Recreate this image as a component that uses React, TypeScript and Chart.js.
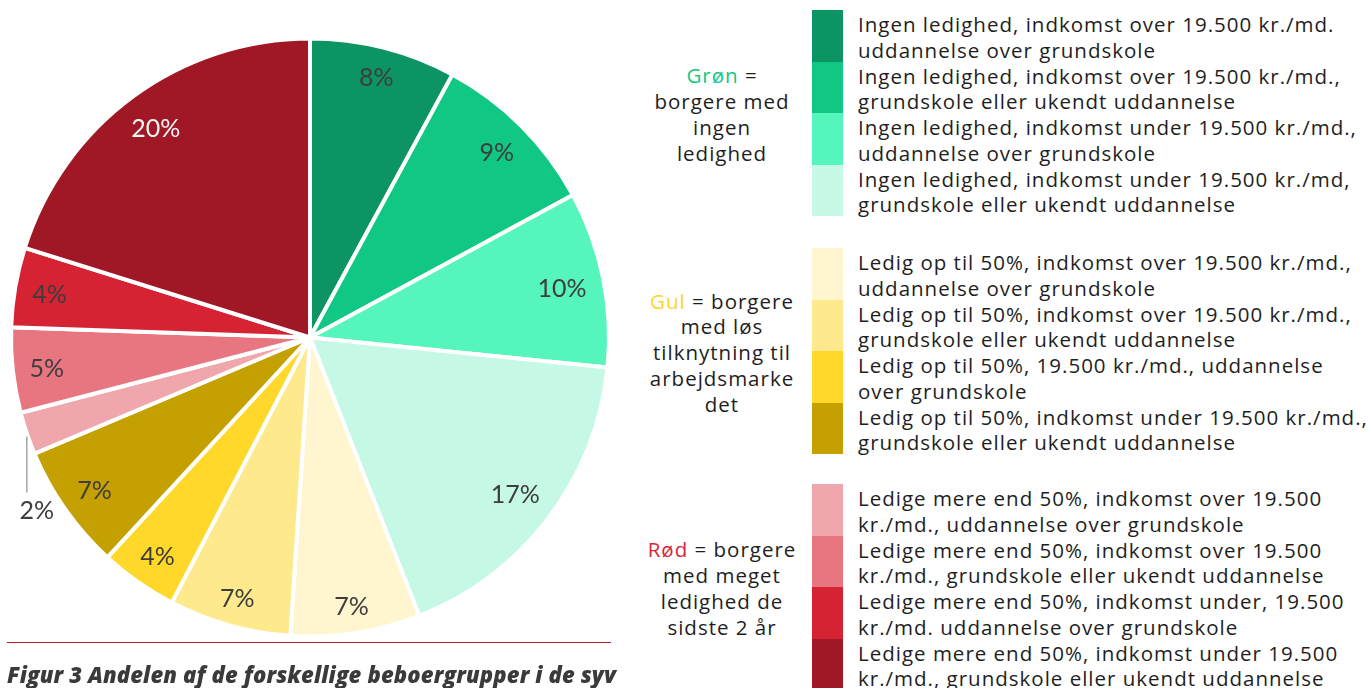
import React, { useEffect, useRef } from "react";
import { Chart, registerables } from "chart.js";

Chart.register(...registerables);

const categories: string[] = [
  "Ingen ledighed, indkomst over 19.500 kr./md. uddannelse over grundskole",
  "Ingen ledighed, indkomst over 19.500 kr./md., grundskole eller ukendt uddannelse",
  "Ingen ledighed, indkomst under 19.500 kr./md., uddannelse over grundskole",
  "Ingen ledighed, indkomst under 19.500 kr./md, grundskole eller ukendt uddannelse",
  "Ledig op til 50%, indkomst over 19.500 kr./md., uddannelse over grundskole",
  "Ledig op til 50%, indkomst over 19.500 kr./md., grundskole eller ukendt uddannelse",
  "Ledig op til 50%, 19.500 kr./md., uddannelse over grundskole",
  "Ledig op til 50%, indkomst under 19.500 kr./md., grundskole eller ukendt uddannelse",
  "Ledige mere end 50%, indkomst over 19.500 kr./md., uddannelse over grundskole",
  "Ledige mere end 50%, indkomst over 19.500 kr./md., grundskole eller ukendt uddannelse",
  "Ledige mere end 50%, indkomst under, 19.500 kr./md. uddannelse over grundskole",
  "Ledige mere end 50%, indkomst under 19.500 kr./md., grundskole eller ukendt uddannelse",
];

// shares (%); labels show them rounded
const shares: number[] = [7.9, 9.2, 9.5, 17.45, 7.0, 6.6, 4.2, 6.8, 2.3, 4.6, 4.3, 20.15];

const colors: string[] = [
  "#0c9563", "#10c783", "#56f5bc", "#c5f9e6",
  "#fff5cf", "#ffe98d", "#ffd82a", "#c4a000",
  "#f0a6ad", "#e87680", "#d62333", "#a01826",
];

const labelColors: string[] = [
  "#3d3d3d", "#3d3d3d", "#3d3d3d", "#3d3d3d",
  "#3d3d3d", "#3d3d3d", "#3d3d3d", "#3d3d3d",
  "#3d3d3d", "#3d3d3d", "#3d3d3d", "#f4f4f4",
];

// legend lines (two per item)
const legendLines: string[][] = [
  ["Ingen ledighed, indkomst over 19.500 kr./md.", "uddannelse over grundskole"],
  ["Ingen ledighed, indkomst over 19.500 kr./md.,", "grundskole eller ukendt uddannelse"],
  ["Ingen ledighed, indkomst under 19.500 kr./md.,", "uddannelse over grundskole"],
  ["Ingen ledighed, indkomst under 19.500 kr./md,", "grundskole eller ukendt uddannelse"],
  ["Ledig op til 50%, indkomst over 19.500 kr./md.,", "uddannelse over grundskole"],
  ["Ledig op til 50%, indkomst over 19.500 kr./md.,", "grundskole eller ukendt uddannelse"],
  ["Ledig op til 50%, 19.500 kr./md., uddannelse", "over grundskole"],
  ["Ledig op til 50%, indkomst under 19.500 kr./md.,", "grundskole eller ukendt uddannelse"],
  ["Ledige mere end 50%, indkomst over 19.500", "kr./md., uddannelse over grundskole"],
  ["Ledige mere end 50%, indkomst over 19.500", "kr./md., grundskole eller ukendt uddannelse"],
  ["Ledige mere end 50%, indkomst under, 19.500", "kr./md. uddannelse over grundskole"],
  ["Ledige mere end 50%, indkomst under 19.500", "kr./md., grundskole eller ukendt uddannelse"],
];

const groupNames: string[] = ["Grøn", "Gul", "Rød"];
const groupColors: string[] = ["#12c882", "#ffd32a", "#d8263a"];
const groupLines: string[][] = [
  [" =", "borgere med", "ingen", "ledighed"],
  [" = borgere", "med løs", "tilknytning til", "arbejdsmarke", "det"],
  [" = borgere", "med meget", "ledighed de", "sidste 2 år"],
];
const groupTops: number[] = [10, 248, 484];

const caption = "Figur 3 Andelen af de forskellige beboergrupper i de syv";

const LABEL_FONT = "25px Lato";

const labelPlugin = {
  id: "sliceLabels",
  afterDatasetsDraw(chart: any) {
    const ctx = chart.ctx;
    const meta = chart.getDatasetMeta(0);
    ctx.save();
    ctx.font = LABEL_FONT;
    ctx.textAlign = "center";
    ctx.textBaseline = "middle";
    meta.data.forEach((arc: any, i: number) => {
      const { x, y, startAngle, endAngle, outerRadius } = arc.getProps(
        ["x", "y", "startAngle", "endAngle", "outerRadius"],
        true
      );
      const mid = (startAngle + endAngle) / 2;
      const text = Math.round(shares[i]) + "%";
      const ux = Math.cos(mid);
      const uy = Math.sin(mid);
      if (shares[i] < 3) {
        const px = x + ux * outerRadius;
        const py = y + uy * outerRadius;
        ctx.strokeStyle = "#a6a6a6";
        ctx.lineWidth = 1.5;
        ctx.beginPath();
        ctx.moveTo(px, py + 3);
        ctx.lineTo(px, py + 59);
        ctx.stroke();
        ctx.fillStyle = "#3d3d3d";
        ctx.fillText(text, px + 10, py + 77);
      } else {
        const w = ctx.measureText(text).width;
        const h = 19;
        const extent = Math.abs((w / 2) * ux) + Math.abs((h / 2) * uy);
        const r = outerRadius - 16 - extent;
        ctx.fillStyle = labelColors[i];
        ctx.fillText(text, x + ux * r, y + uy * r + 2);
      }
    });
    ctx.restore();
  },
};

function PieChart() {
  const ref = useRef<HTMLCanvasElement | null>(null);
  useEffect(() => {
    if (!ref.current) return;
    const chart = new Chart(ref.current, {
      type: "pie",
      data: {
        labels: categories,
        datasets: [
          {
            data: shares,
            backgroundColor: colors,
            borderColor: "#ffffff",
            borderWidth: 4,
          },
        ],
      },
      options: {
        responsive: false,
        animation: false,
        layout: { padding: { left: 9, top: 36.5, right: 9, bottom: 49.5 } },
        plugins: {
          legend: { display: false },
          tooltip: { enabled: false },
        },
      },
      plugins: [labelPlugin],
    });
    return () => chart.destroy();
  }, []);
  return (
    <canvas
      ref={ref}
      width={620}
      height={688}
      style={{ position: "absolute", left: 0, top: 0, width: 620, height: 688 }}
    />
  );
}

export default function App() {
  const legendFont = "'Open Sans', Roboto, sans-serif";
  return (
    <div
      style={{
        position: "absolute",
        left: 0,
        top: 0,
        width: 1368,
        height: 688,
        overflow: "hidden",
        background: "#ffffff",
      }}
    >
      <PieChart />
      <div
        style={{
          position: "absolute",
          left: 7,
          top: 642,
          width: 604,
          height: 1,
          background: "#b01c2b",
        }}
      />
      <div
        style={{
          position: "absolute",
          left: 7,
          top: 660,
          whiteSpace: "nowrap",
          fontFamily: "'Open Sans', sans-serif",
          fontWeight: 800,
          fontStyle: "italic",
          fontSize: 22,
          letterSpacing: "0.15px",
          lineHeight: "28px",
          color: "#3a3a3a",
        }}
      >
        {caption}
      </div>
      {groupNames.map((g, gi) => (
        <React.Fragment key={g}>
          <div
            style={{
              position: "absolute",
              left: 622,
              width: 200,
              top: groupTops[gi] + 2,
              height: 206,
              display: "flex",
              flexDirection: "column",
              justifyContent: "center",
              alignItems: "center",
              fontFamily: legendFont,
              fontSize: 20.5,
              letterSpacing: "1px",
              lineHeight: "25.8px",
              color: "#1e1e1e",
              textAlign: "center",
            }}
          >
            {groupLines[gi].map((ln, li) => (
              <div key={li} style={{ whiteSpace: "nowrap" }}>
                {li === 0 ? <span style={{ color: groupColors[gi] }}>{g}</span> : null}
                {ln}
              </div>
            ))}
          </div>
          {[0, 1, 2, 3].map((k) => {
            const idx = gi * 4 + k;
            return (
              <div
                key={idx}
                style={{
                  position: "absolute",
                  left: 812,
                  top: groupTops[gi] + k * 51.5,
                  height: 51.5,
                  display: "flex",
                  alignItems: "flex-start",
                }}
              >
                <div style={{ width: 31, height: 51.5, background: colors[idx] }} />
                <div
                  style={{
                    marginLeft: 15,
                    marginTop: 2,
                    fontFamily: legendFont,
                    fontSize: 20.5,
                    letterSpacing: "1px",
                    lineHeight: "25.8px",
                    color: "#1e1e1e",
                    whiteSpace: "nowrap",
                  }}
                >
                  <div>{legendLines[idx][0]}</div>
                  <div>{legendLines[idx][1]}</div>
                </div>
              </div>
            );
          })}
        </React.Fragment>
      ))}
    </div>
  );
}
